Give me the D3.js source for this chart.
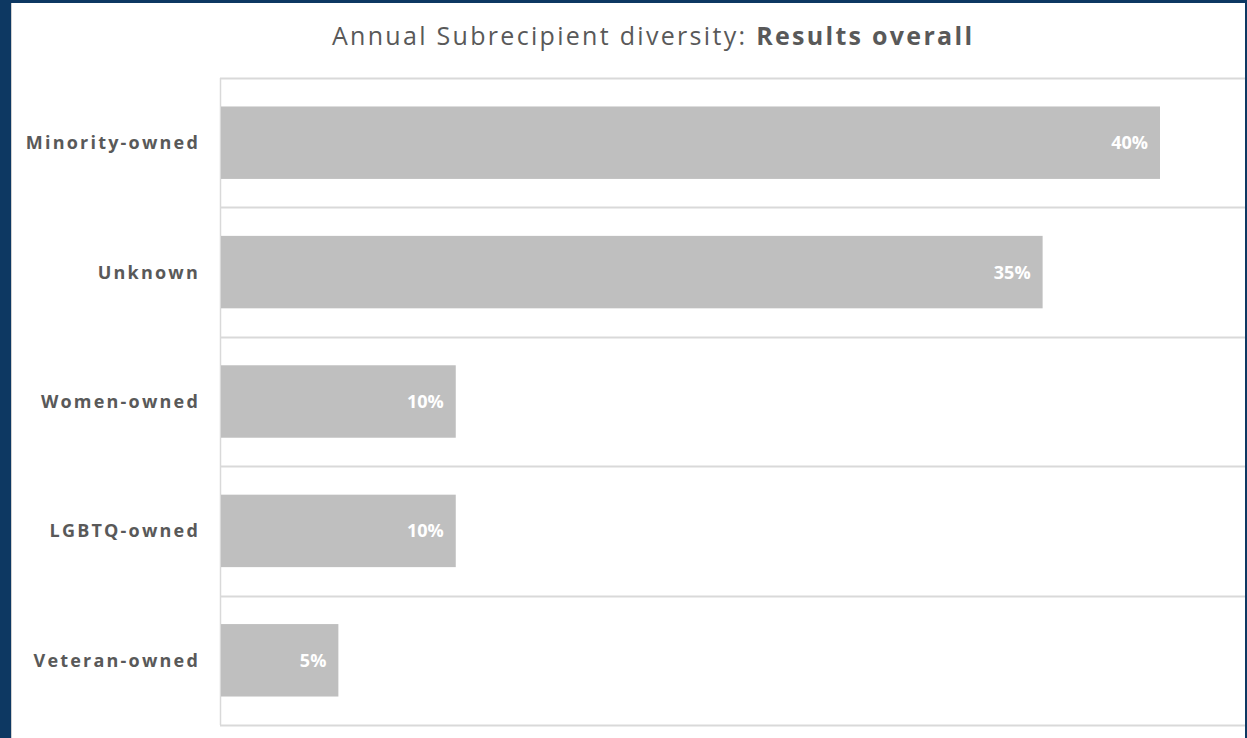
<!DOCTYPE html>
<html>
<head>
<meta charset="utf-8">
<script src="https://cdn.jsdelivr.net/npm/d3@7"></script>
<style>
  html, body { margin: 0; padding: 0; background: #0d3862; }
  svg { display: block; }
</style>
</head>
<body>
<svg id="chart" width="1247" height="738"></svg>
<script>
// Subrecipient diversity shares, top to bottom
const categories = ["Minority-owned", "Unknown", "Women-owned", "LGBTQ-owned", "Veteran-owned"];
const shares = [40, 35, 10, 10, 5];
const valueLabels = ["40%", "35%", "10%", "10%", "5%"];
const titleRegular = "Annual Subrecipient diversity: ";
const titleBold = "Results overall";

const W = 1247, H = 738;
const svg = d3.select("#chart");

// navy frame with white card
svg.append("rect").attr("x", 0).attr("y", 0).attr("width", W).attr("height", H).attr("fill", "#0d3862");
svg.append("rect").attr("x", 11).attr("y", 3).attr("width", 1234).attr("height", H - 3).attr("fill", "#ffffff");
svg.append("line").attr("x1", 11.5).attr("x2", 11.5).attr("y1", 3).attr("y2", H)
  .attr("stroke", "#d0d0d0").attr("stroke-width", 1);

const plot = { left: 220, right: 1245, top: 78, bottom: 725 };

const y = d3.scaleBand()
  .domain(categories)
  .range([plot.top, plot.bottom])
  .paddingInner(0.44)
  .paddingOuter(0.22);

const x = d3.scaleLinear()
  .domain([0, 40])
  .range([plot.left + 1, 1160]);

const data = categories.map((c, i) => ({ cat: c, v: shares[i], label: valueLabels[i] }));

// horizontal separators between categories
const step = (plot.bottom - plot.top) / categories.length;
const sepY = d3.range(categories.length + 1).map(i => plot.top + i * step);
svg.append("g").selectAll("line").data(sepY).join("line")
  .attr("x1", plot.left).attr("x2", plot.right)
  .attr("y1", d => Math.round(d) + 0.5).attr("y2", d => Math.round(d) + 0.5)
  .attr("stroke", "#d9d9d9").attr("stroke-width", 2);

// left plot edge
svg.append("line")
  .attr("x1", plot.left + 0.5).attr("x2", plot.left + 0.5)
  .attr("y1", plot.top).attr("y2", plot.bottom)
  .attr("stroke", "#d9d9d9").attr("stroke-width", 1.5);

// bars
svg.append("g").selectAll("rect").data(data).join("rect")
  .attr("x", x(0))
  .attr("y", d => y(d.cat))
  .attr("width", d => x(d.v) - x(0))
  .attr("height", y.bandwidth())
  .attr("fill", "#bfbfbf");

// value labels inside bar ends
svg.append("g").selectAll("text").data(data).join("text")
  .attr("x", d => x(d.v) - 12)
  .attr("y", d => y(d.cat) + y.bandwidth() / 2)
  .attr("dy", "0.36em")
  .attr("text-anchor", "end")
  .attr("font-family", "'Open Sans', sans-serif")
  .attr("font-weight", 700)
  .attr("font-size", 18)
  .attr("fill", "#ffffff")
  .text(d => d.label);

// category axis
const yAxis = d3.axisLeft(y).tickSize(0).tickPadding(0);
const gy = svg.append("g").attr("transform", `translate(${plot.left - 20},0)`).call(yAxis);
gy.select(".domain").remove();
gy.selectAll("text")
  .attr("font-family", "'Open Sans', sans-serif")
  .attr("font-weight", 700)
  .attr("font-size", 18)
  .attr("letter-spacing", "2.2px")
  .attr("fill", "#595959")
  .attr("dy", "0.36em");

// title
const title = svg.append("text")
  .attr("x", 332)
  .attr("y", 44.5)
  .attr("text-anchor", "start")
  .attr("font-family", "'Open Sans', sans-serif")
  .attr("font-size", 25)
  .attr("letter-spacing", "2.3px")
  .attr("fill", "#595959");
title.append("tspan").text(titleRegular);
title.append("tspan").attr("font-weight", 700).text(titleBold);
</script>
</body>
</html>
